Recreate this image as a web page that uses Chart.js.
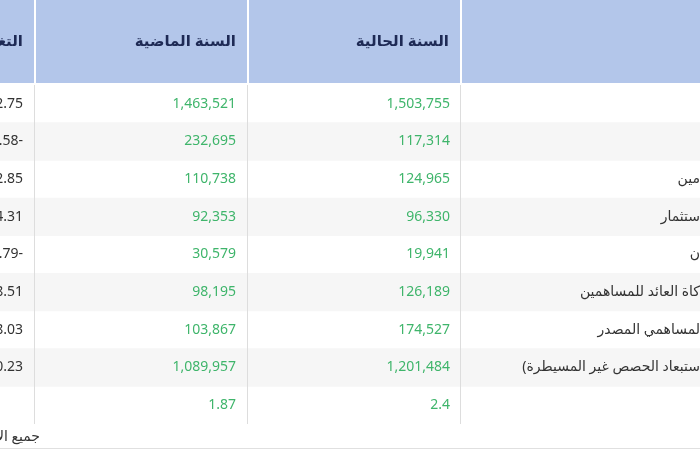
<!DOCTYPE html>
<html>
<head>
<meta charset="utf-8">
<script src="https://cdn.jsdelivr.net/npm/chart.js@4"></script>
<style>
body{margin:0;background:#fff}
#wrap{width:700px;height:450px}
</style>
</head>
<body>
<div id="wrap"><canvas id="tbl"></canvas></div>
<script>
// table data
const headers = ["التغير", "السنة الماضية", "السنة الحالية", ""];
const rowLabels = ["", "", "مين", "ستثمار", "ن", "كاة العائد للمساهمين", "لمساهمي المصدر", "(ستبعاد الحصص غير المسيطرة", ""];
const currentYear = ["1,503,755","117,314","124,965","96,330","19,941","126,189","174,527","1,201,484","2.4"];
const lastYear = ["1,463,521","232,695","110,738","92,353","30,579","98,195","103,867","1,089,957","1.87"];
const change = ["2.75","49.58-","12.85","4.31","34.79-","28.51","68.03","10.23",""];
const footer = "جميع الأرقام";

const rowIdx = rowLabels.map((_, i) => "r" + i);
const stripes = rowIdx.map((_, i) => i % 2 === 1 ? [0, 700] : null);

const cols = [{l:-200,r:34},{l:36,r:247},{l:249,r:460},{l:462,r:760}];
const FONT = '"Noto Sans","DejaVu Sans",sans-serif';

const tablePlugin = {
  id: "tablePlugin",
  afterDraw(chart){
    const c = chart.ctx, y = chart.scales.y, x = chart.scales.x;
    const top = chart.chartArea.top, bot = chart.chartArea.bottom;
    c.save();
    // header
    cols.forEach((col, i) => {
      c.fillStyle = "#b3c6ea";
      c.fillRect(x.getPixelForValue(col.l), 0, x.getPixelForValue(col.r) - x.getPixelForValue(col.l), top - 2);
      c.fillStyle = "#1e2a55";
      c.font = "600 15px " + FONT;
      c.textAlign = "right";
      c.textBaseline = "middle";
      c.fillText(headers[i], x.getPixelForValue(col.r) - 11, 42);
    });
    // vertical lines
    c.strokeStyle = "#dddddd";
    c.lineWidth = 1;
    [34.5, 247.5, 460.5].forEach(v => {
      c.beginPath(); c.moveTo(x.getPixelForValue(v), top); c.lineTo(x.getPixelForValue(v), bot); c.stroke();
    });
    // cells
    c.textBaseline = "middle";
    c.textAlign = "right";
    rowIdx.forEach((k, i) => {
      const py = y.getPixelForValue(i);
      c.font = "14px " + FONT;
      c.fillStyle = "#3fb56b";
      c.fillText(lastYear[i], x.getPixelForValue(236), py);
      c.fillText(currentYear[i], x.getPixelForValue(450), py);
      c.fillStyle = "#333";
      c.fillText(change[i], x.getPixelForValue(23), py);
      c.fillText(rowLabels[i], x.getPixelForValue(700), py);
    });
    // footer
    c.fillStyle = "#333";
    c.font = "14px " + FONT;
    c.fillText(footer, x.getPixelForValue(40), 437);
    c.strokeStyle = "#e0e0e0";
    c.beginPath(); c.moveTo(0, 448.5); c.lineTo(700, 448.5); c.stroke();
    c.restore();
  }
};

new Chart(document.getElementById("tbl"), {
  type: "bar",
  data: {
    labels: rowIdx,
    datasets: [{data: stripes, backgroundColor: "#f6f6f6", barPercentage: 1, categoryPercentage: 1}]
  },
  options: {
    indexAxis: "y",
    responsive: true,
    maintainAspectRatio: false,
    animation: false,
    layout: {padding: {top: 85, bottom: 26, left: 0, right: 0}},
    plugins: {legend: {display: false}, tooltip: {enabled: false}},
    scales: {
      x: {type: "linear", min: 0, max: 700, display: false},
      y: {display: false}
    }
  },
  plugins: [tablePlugin]
});
</script>
</body>
</html>
